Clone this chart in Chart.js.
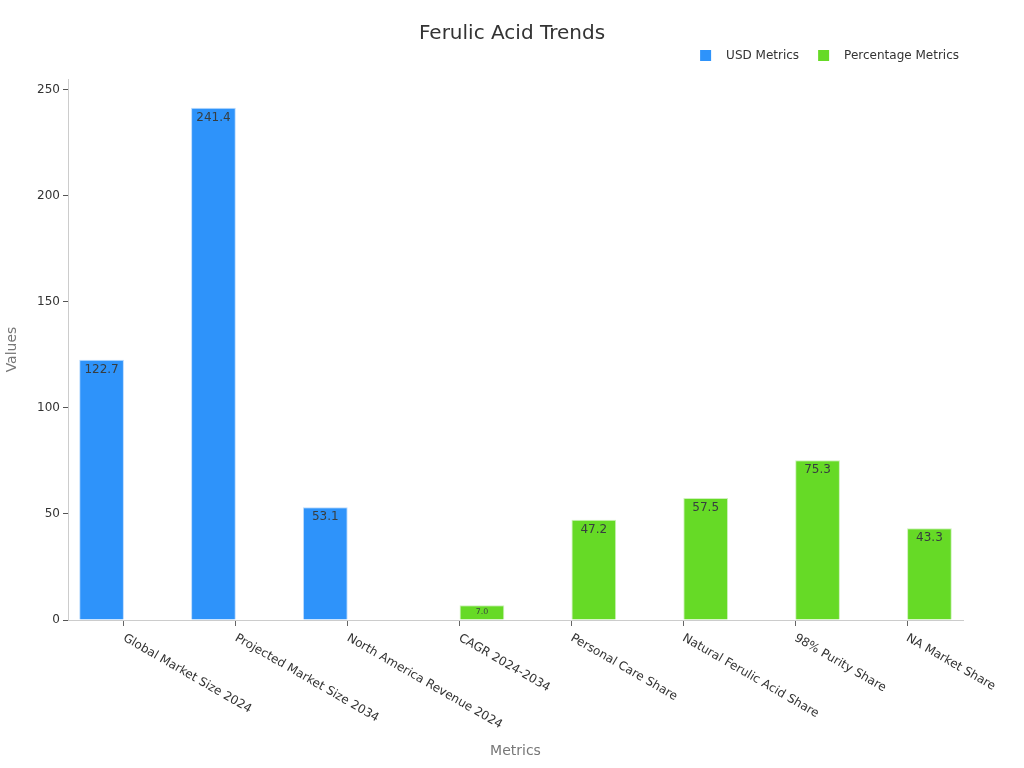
<!DOCTYPE html>
<html lang="en">
<head>
<meta charset="UTF-8">
<title>Ferulic Acid Trends</title>
<style>
    html, body { margin: 0; padding: 0; background: #fff; }
    #wrap { width: 1024px; height: 768px; }
</style>
</head>
<body>
<div id="wrap"><canvas id="chart"></canvas></div>
<script src="https://cdn.jsdelivr.net/npm/chart.js@4.4.0/dist/chart.umd.min.js"></script>
<script>
    var categories = ['Global Market Size 2024', 'Projected Market Size 2034', 'North America Revenue 2024',
        'CAGR 2024-2034', 'Personal Care Share', 'Natural Ferulic Acid Share', '98% Purity Share', 'NA Market Share'];
    var usdValues = [122.7, 241.4, 53.1, null, null, null, null, null];
    var pctValues = [null, null, null, 7.0, 47.2, 57.5, 75.3, 43.3];
    var seriesNames = ['USD Metrics', 'Percentage Metrics'];
    var yTicks = [0, 50, 100, 150, 200, 250];
    var chartTitle = 'Ferulic Acid Trends';

    var FONT = "'DejaVu Sans', sans-serif";

    // value labels inside the top of each bar
    var barLabels = {
        id: 'barLabels',
        afterDatasetsDraw: function(chart) {
            var ctx = chart.ctx;
            chart.data.datasets.forEach(function(ds, di) {
                chart.getDatasetMeta(di).data.forEach(function(bar, i) {
                    var v = ds.data[i];
                    if (v === null) return;
                    var h = bar.base - bar.y;
                    var size = Math.min(12, Math.max(7, h * 0.55));
                    ctx.save();
                    ctx.font = size + 'px ' + FONT;
                    ctx.fillStyle = '#373d3f';
                    ctx.textAlign = 'center';
                    ctx.textBaseline = 'middle';
                    ctx.fillText(v.toFixed(1), bar.x, bar.y + Math.min(10, h / 2));
                    ctx.restore();
                });
            });
        }
    };

    // slanted category labels going down-right from each tick
    var slantLabels = {
        id: 'slantLabels',
        afterDraw: function(chart) {
            var ctx = chart.ctx;
            var xs = chart.scales.x;
            ctx.save();
            ctx.font = '12px ' + FONT;
            ctx.fillStyle = '#333';
            ctx.textAlign = 'left';
            ctx.textBaseline = 'top';
            categories.forEach(function(label, i) {
                var x = xs.getPixelForTick(i);
                ctx.save();
                ctx.translate(x + 3, xs.top + 12);
                ctx.rotate(Math.PI / 6);
                ctx.fillText(label, 0, 0);
                ctx.restore();
            });
            ctx.restore();
        }
    };

    // title centred on the page and legend at top right
    var header = {
        id: 'header',
        afterDraw: function(chart) {
            var ctx = chart.ctx;
            var colors = ['#2E93FA', '#66DA26'];
            ctx.save();
            ctx.font = '20px ' + FONT;
            ctx.fillStyle = '#333';
            ctx.textAlign = 'center';
            ctx.textBaseline = 'middle';
            ctx.fillText(chartTitle, chart.width / 2, 34);

            ctx.font = '12px ' + FONT;
            ctx.textAlign = 'left';
            var x = 959;
            for (var i = seriesNames.length - 1; i >= 0; i--) {
                var w = ctx.measureText(seriesNames[i]).width;
                x -= w;
                ctx.fillStyle = '#333';
                ctx.fillText(seriesNames[i], x, 56);
                x -= 15 + 11;
                ctx.fillStyle = colors[i];
                ctx.fillRect(x, 50, 11, 11);
                x -= 19;
            }
            ctx.restore();
        }
    };

    new Chart(document.getElementById('chart'), {
        type: 'bar',
        data: {
            labels: categories,
            datasets: [{
                label: seriesNames[0],
                data: usdValues,
                backgroundColor: '#2E93FA',
                borderColor: 'rgba(180,215,253,0.9)',
                borderWidth: 1
            }, {
                label: seriesNames[1],
                data: pctValues,
                backgroundColor: '#66DA26',
                borderColor: 'rgba(200,240,180,0.9)',
                borderWidth: 1
            }]
        },
        options: {
            responsive: true,
            maintainAspectRatio: false,
            animation: false,
            categoryPercentage: 0.8,
            barPercentage: 1.0,
            layout: { padding: { top: 79, right: 61, bottom: 4, left: 0 } },
            plugins: {
                legend: { display: false },
                tooltip: { enabled: false },
                title: { display: false }
            },
            scales: {
                x: {
                    grid: { drawOnChartArea: false, offset: false, color: '#666', tickLength: 6 },
                    border: { color: '#ccc' },
                    ticks: { display: false },
                    title: {
                        display: true,
                        text: 'Metrics',
                        color: '#777',
                        font: { family: FONT, size: 14 }
                    },
                    afterFit: function(scale) { scale.height = 144; }
                },
                y: {
                    min: 0,
                    max: 255,
                    grid: { drawOnChartArea: false, color: '#555', tickLength: 5 },
                    border: { color: '#ccc' },
                    ticks: {
                        stepSize: 50,
                        color: '#333',
                        padding: 3,
                        font: { family: FONT, size: 12 }
                    },
                    afterBuildTicks: function(scale) {
                        scale.ticks = yTicks.map(function(v) { return { value: v }; });
                    },
                    title: {
                        display: true,
                        text: 'Values',
                        color: '#777',
                        font: { family: FONT, size: 14 }
                    },
                    afterFit: function(scale) { scale.width = 68; }
                }
            }
        },
        plugins: [barLabels, slantLabels, header]
    });
</script>
</body>
</html>
